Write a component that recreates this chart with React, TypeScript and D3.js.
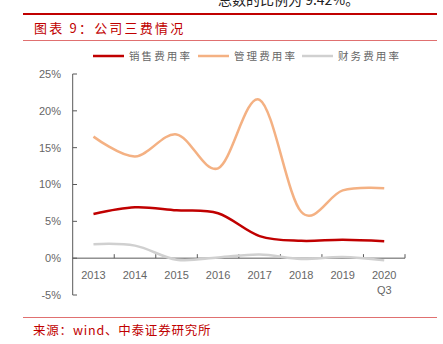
import React from "react";
import * as d3 from "d3";

const categories = ["2013", "2014", "2015", "2016", "2017", "2018", "2019", "2020\nQ3"];
const salesRate = [6.0, 6.9, 6.5, 6.1, 3.0, 2.35, 2.5, 2.3];
const adminRate = [16.5, 13.8, 16.8, 12.2, 21.5, 6.3, 9.2, 9.5];
const financeRate = [1.9, 1.7, -0.2, 0.1, 0.5, -0.1, 0.15, -0.3];
const yTicks = [-5, 0, 5, 10, 15, 20, 25];
const seriesNames = ["销售费用率", "管理费用率", "财务费用率"];
const seriesColors = ["#C00000", "#F4B183", "#D0D0D0"];

export default function App() {
  const W = 443, H = 344;
  const x = d3.scaleBand<string>().domain(categories).range([72.7, 405]).padding(0);
  const y = d3.scaleLinear().domain([-5, 25]).range([295, 74]);
  const line = d3
    .line<number>()
    .x((_, i) => (x(categories[i]) as number) + x.bandwidth() / 2)
    .y((d) => y(d))
    .curve(d3.curveCardinal.tension(0));
  const series = [salesRate, adminRate, financeRate];
  const bounds = categories.map((c) => x(c) as number).concat([x.range()[1]]);
  const axisColor = "#595959";
  const labelColor = "#666";
  const legendX = [93, 198, 302];
  return (
    <svg width={W} height={H} style={{ position: "absolute", left: 0, top: 0 }} fontFamily="'Liberation Sans', Arial, sans-serif">
      <rect width={W} height={H} fill="#fff" />
      <text x={218} y={5} fontSize={14} fill="#222" fontFamily="'Noto Sans CJK SC', sans-serif">总数的比例为 9.42%。</text>
      <line x1={23} x2={437} y1={14} y2={14} stroke="#C00000" strokeWidth={2.2} />
      <text x={34} y={32.5} fontSize={13} fill="#C00000" letterSpacing={2.2} fontFamily="'Noto Sans CJK SC', sans-serif">图表 9：公司三费情况</text>
      <line x1={23} x2={437} y1={40.5} y2={40.5} stroke="#E07070" strokeWidth={1} />

      {/* legend */}
      {seriesNames.map((n, i) => (
        <g key={n}>
          <line x1={legendX[i]} x2={legendX[i] + 31} y1={56} y2={56} stroke={seriesColors[i]} strokeWidth={2.5} />
          <text x={legendX[i] + 36} y={60} fontSize={10.5} fill={labelColor} letterSpacing={2.1} fontFamily="'Noto Sans CJK SC', sans-serif">{n}</text>
        </g>
      ))}

      {/* y axis */}
      <line x1={72.7} x2={72.7} y1={y(25)} y2={y(-5)} stroke={axisColor} strokeWidth={1} />
      {yTicks.map((t) => (
        <g key={t}>
          <line x1={72.7} x2={77} y1={y(t)} y2={y(t)} stroke={axisColor} strokeWidth={1} />
          <text x={61} y={y(t)} dy="0.35em" textAnchor="end" fontSize={11} fill={labelColor}>{t}%</text>
        </g>
      ))}

      {/* x axis */}
      <line x1={72.7} x2={405} y1={y(0)} y2={y(0)} stroke={axisColor} strokeWidth={1} />
      {bounds.slice(1).map((b, i) => (
        <line key={i} x1={b} x2={b} y1={y(0)} y2={y(0) - 4} stroke={axisColor} strokeWidth={1} />
      ))}
      {categories.map((c) => {
        const cx = (x(c) as number) + x.bandwidth() / 2;
        const parts = c.split("\n");
        return (
          <text key={c} x={cx} y={279} textAnchor="middle" fontSize={11} fill={labelColor}>
            {parts.map((p, j) => (
              <tspan key={j} x={cx} dy={j === 0 ? 0 : 15}>{p}</tspan>
            ))}
          </text>
        );
      })}

      {/* lines */}
      {[2, 1, 0].map((i) => (
        <path key={i} d={line(series[i]) || ""} fill="none" stroke={seriesColors[i]} strokeWidth={2.5} />
      ))}

      <line x1={23} x2={437} y1={317.5} y2={317.5} stroke="#E07070" strokeWidth={1} />
      <text x={33} y={335} fontSize={12.5} fill="#C00000" letterSpacing={0.8} fontFamily="'Noto Sans CJK SC', sans-serif">来源：wind、中泰证券研究所</text>
    </svg>
  );
}
